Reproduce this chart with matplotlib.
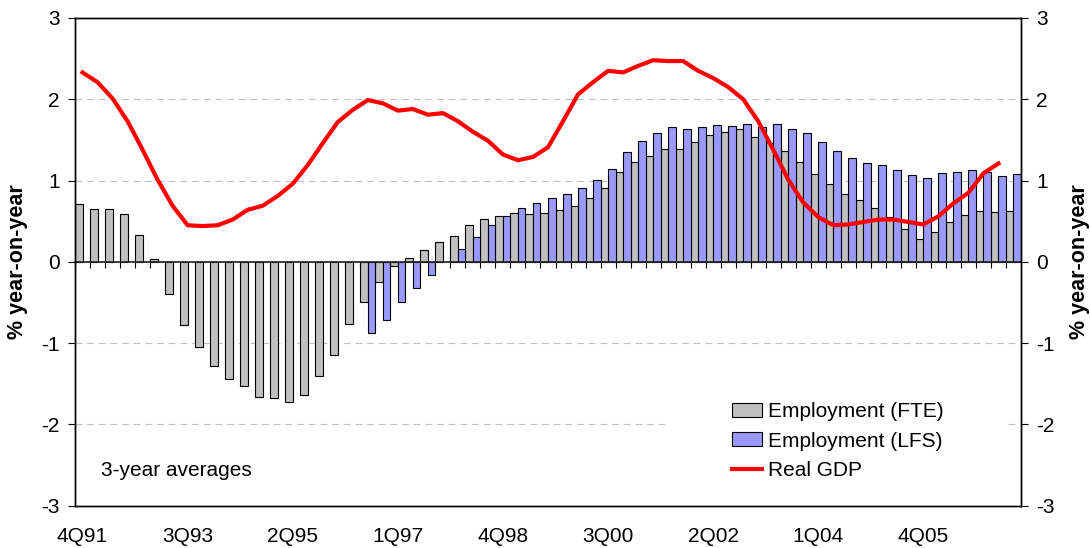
"""
Employment (FTE / LFS) and real GDP, 3-year averages, % year-on-year
Bars for employment, red line for GDP, quarters 4Q91 .. 2Q07
"""
import matplotlib.pyplot as plt
from matplotlib.patches import Rectangle
from matplotlib.lines import Line2D
import numpy as np

plt.rcParams['font.family'] = ['Liberation Sans', 'DejaVu Sans']
plt.rcParams['axes.unicode_minus'] = False

# Quarter labels 4Q91 .. 2Q07
quarters = [f'{q}Q{yr % 100:02d}' for yr in range(1991, 2008) for q in range(1, 5)][3:66]

# Employment (FTE), % year-on-year
fte = [0.71, 0.65, 0.65, 0.59, 0.33, 0.04, -0.39, -0.78, -1.05, -1.28,
       -1.44, -1.53, -1.66, -1.67, -1.73, -1.64, -1.41, -1.15, -0.77, -0.49,
       -0.25, -0.05, 0.05, 0.15, 0.25, 0.32, 0.45, 0.53, 0.57, 0.60,
       0.59, 0.60, 0.64, 0.69, 0.79, 0.91, 1.10, 1.23, 1.30, 1.39,
       1.39, 1.48, 1.56, 1.60, 1.63, 1.54, 1.46, 1.36, 1.23, 1.08,
       0.96, 0.83, 0.76, 0.66, 0.55, 0.41, 0.28, 0.37, 0.49, 0.58,
       0.62, 0.61, 0.63]

# Employment (LFS), % year-on-year (starts 3Q96, gap in 4Q97)
lfs = [np.nan] * 19 + [
       -0.87, -0.71, -0.50, -0.32, -0.16, np.nan, 0.16, 0.31, 0.45, 0.57,
       0.66, 0.72, 0.78, 0.84, 0.91, 1.01, 1.14, 1.35, 1.49, 1.58,
       1.66, 1.64, 1.66, 1.68, 1.67, 1.69, 1.66, 1.69, 1.64, 1.59,
       1.47, 1.36, 1.28, 1.21, 1.19, 1.13, 1.07, 1.03, 1.09, 1.10,
       1.13, 1.10, 1.06, 1.08]

# Real GDP, % year-on-year (4Q91 .. 1Q07)
gdp = [2.33, 2.21, 2.01, 1.73, 1.38, 1.01, 0.69, 0.45, 0.44, 0.45,
       0.52, 0.64, 0.69, 0.81, 0.96, 1.19, 1.46, 1.72, 1.87, 1.99,
       1.95, 1.86, 1.88, 1.81, 1.83, 1.73, 1.60, 1.49, 1.32, 1.25,
       1.29, 1.41, 1.73, 2.06, 2.21, 2.35, 2.33, 2.41, 2.48, 2.47,
       2.47, 2.35, 2.26, 2.15, 2.00, 1.73, 1.38, 1.01, 0.73, 0.55,
       0.45, 0.46, 0.49, 0.52, 0.52, 0.49, 0.46, 0.56, 0.72, 0.85,
       1.09, 1.21]

grey = '#c0c0c0'
blue = '#9999ff'
x = np.arange(len(quarters))

fig = plt.figure(figsize=(10.9, 5.48), dpi=100)
ax = fig.add_axes([0.0688, 0.0772, 0.8679, 0.8900])

ax.bar(x - 0.25, fte, width=0.5, color=grey, edgecolor='black', linewidth=0.8, zorder=2)
ax.bar(x + 0.25, lfs, width=0.5, color=blue, edgecolor='black', linewidth=0.8, zorder=2)
ax.plot(x[:len(gdp)], gdp, color='#ff0000', linewidth=3, zorder=4)

ax.set_xlim(-0.5, len(quarters) - 0.5)
ax.set_ylim(-3, 3)
ax.set_yticks(np.arange(-3, 4, 1))

# dashed grid
ax.set_axisbelow(True)
ax.yaxis.grid(True, color='#c0c0c0', linestyle=(0, (6, 4.5)), linewidth=0.8)

# category labels every 7 quarters at the bottom
ax.set_xticks(x[::7])
ax.set_xticklabels(quarters[::7])
ax.tick_params(axis='x', length=0, pad=15, labelsize=15)
ax.tick_params(axis='y', direction='out', length=4.8, width=0.8, pad=6, labelsize=15)

for s in ax.spines.values():
    s.set_linewidth(1.0)
    s.set_color('black')

# category axis crossing at zero, tick marks between quarters
sec = ax.secondary_xaxis(0.5)
sec.set_xticks(np.arange(-0.5, len(quarters), 1))
sec.tick_params(axis='x', direction='in', length=4.5, width=0.8, labeltop=False, labelbottom=False)
sec.spines['top'].set_linewidth(1.2)
sec.spines['top'].set_color('#222222')
sec.set_zorder(3)

ax.set_ylabel('% year-on-year', fontsize=15.5, fontweight='bold')
ax.yaxis.set_label_coords(-0.0494, 0.5)

# right axis, same scale
ax2 = ax.twinx()
ax2.set_ylim(-3, 3)
ax2.set_yticks(np.arange(-3, 4, 1))
ax2.tick_params(axis='y', direction='out', length=4.8, width=0.8, pad=6, labelsize=15)
ax2.set_ylabel('% year-on-year', fontsize=15.5, fontweight='bold')
ax2.yaxis.set_label_coords(1.0507, 0.5)
for s in ax2.spines.values():
    s.set_linewidth(1.0)
    s.set_color('black')

# white legend area
ax.add_patch(Rectangle((0.627, 0.045), 0.359, 0.205, transform=ax.transAxes,
                       facecolor='white', edgecolor='none', zorder=0.8))

handles = [Rectangle((0, 0), 1, 1, facecolor=grey, edgecolor='black', linewidth=0.8),
           Rectangle((0, 0), 1, 1, facecolor=blue, edgecolor='black', linewidth=0.8),
           Line2D([], [], color='#ff0000', linewidth=3)]
labels = ['Employment (FTE)', 'Employment (LFS)', 'Real GDP']
ax.legend(handles, labels, loc='upper left', bbox_to_anchor=(0.6945, 0.212),
          frameon=False, borderpad=0, borderaxespad=0, handlelength=1.45,
          handleheight=0.65, handletextpad=0.3, labelspacing=0.5, fontsize=15)

ax.text(0.028, 0.072, '3-year averages', transform=ax.transAxes,
        ha='left', va='center', fontsize=15)

plt.savefig('out.png', dpi=100)
